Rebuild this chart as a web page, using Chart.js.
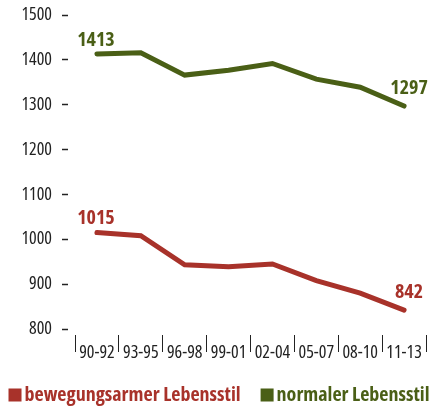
<!DOCTYPE html>
<html>
<head>
<meta charset="utf-8">
<script src="https://cdn.jsdelivr.net/npm/chart.js@4"></script>
<style>
  html, body { margin: 0; padding: 0; background: #fff; }
  #wrap { width: 438px; height: 407px; }
</style>
</head>
<body>
<div id="wrap"><canvas id="grafica"></canvas></div>
<script>
// Daten
const perioden = ["90-92", "93-95", "96-98", "99-01", "02-04", "05-07", "08-10", "11-13"];
const bewegungsarm = [1015, 1008, 943, 939, 945, 908, 880, 842];
const normal = [1413, 1416, 1366, 1377, 1392, 1357, 1339, 1297];
const yTicks = [800, 900, 1000, 1100, 1200, 1300, 1400, 1500];

const ROT = "#a8322a";
const GRUEN = "#4a5f16";
const SCHRIFT = "'Open Sans', sans-serif";

// Werte am ersten und letzten Punkt beschriften
const endWerte = {
  id: "endWerte",
  afterDatasetsDraw(chart) {
    const ctx = chart.ctx;
    ctx.save();
    ctx.font = "bold extra-condensed 20px " + SCHRIFT;
    ctx.fontStretch = "extra-condensed";
    ctx.textAlign = "center";
    ctx.textBaseline = "bottom";
    chart.data.datasets.forEach((ds, i) => {
      const meta = chart.getDatasetMeta(i);
      const letzte = meta.data.length - 1;
      ctx.fillStyle = ds.borderColor;
      [0, letzte].forEach(idx => {
        const p = meta.data[idx];
        const dx = idx === 0 ? -1 : 5;
        const dy = idx === 0 ? 4 : 8;
        ctx.fillText(String(ds.data[idx]), p.x + dx, p.y - dy);
      });
    });
    ctx.restore();
  }
};

// Legende unten, selbst gezeichnet
const legende = {
  id: "legende",
  afterDraw(chart) {
    const ctx = chart.ctx;
    ctx.save();
    ctx.font = "bold extra-condensed 20px " + SCHRIFT;
    ctx.fontStretch = "extra-condensed";
    ctx.textBaseline = "middle";
    const box = 13, gap = 3, abstand = 20;
    const items = chart.data.datasets.map(ds => ({
      text: ds.label, color: ds.borderColor, w: ctx.measureText(ds.label).width
    }));
    const total = items.reduce((s, it) => s + box + gap + it.w, 0) + abstand * (items.length - 1);
    let x = (chart.width - total) / 2;
    const y = 395;
    items.forEach(it => {
      ctx.fillStyle = it.color;
      ctx.fillRect(x, y - box / 2, box, box);
      ctx.fillText(it.text, x + box + gap, y);
      x += box + gap + it.w + abstand;
    });
    ctx.restore();
  }
};

new Chart(document.getElementById("grafica"), {
  type: "line",
  data: {
    labels: perioden,
    datasets: [
      {
        label: "bewegungsarmer Lebensstil",
        data: bewegungsarm,
        borderColor: ROT,
        backgroundColor: ROT,
        borderWidth: 5,
        pointRadius: 0,
        tension: 0,
        borderCapStyle: "round",
        fill: false
      },
      {
        label: "normaler Lebensstil",
        data: normal,
        borderColor: GRUEN,
        backgroundColor: GRUEN,
        borderWidth: 5,
        pointRadius: 0,
        tension: 0,
        borderCapStyle: "round",
        fill: false
      }
    ]
  },
  options: {
    responsive: true,
    maintainAspectRatio: false,
    animation: false,
    layout: { padding: { left: 0, right: 12, top: 15, bottom: 34 } },
    scales: {
      x: {
        offset: true,
        border: { display: false },
        grid: {
          offset: true,
          drawOnChartArea: false,
          drawTicks: true,
          tickLength: 23,
          tickWidth: 1,
          tickColor: "#222",
          tickBorderDash: [0, 6, 17, 20]
        },
        ticks: {
          color: "#222",
          font: { family: SCHRIFT, size: 18, weight: "400 extra-condensed" },
          padding: -10,
          maxRotation: 0,
          autoSkip: false
        },
        afterFit(scale) { scale.height = 44; }
      },
      y: {
        min: 800,
        max: 1500,
        border: { display: false },
        grid: {
          drawOnChartArea: false,
          drawTicks: true,
          tickLength: 13,
          tickWidth: 1.5,
          tickColor: "#222",
          tickBorderDash: [6, 20]
        },
        afterBuildTicks(scale) {
          scale.ticks = yTicks.map(v => ({ value: v }));
        },
        ticks: {
          color: "#222",
          font: { family: SCHRIFT, size: 18, weight: "400 extra-condensed" },
          padding: 10,
          callback: v => String(v)
        },
        afterFit(scale) {
          scale.width = 75;
          scale.paddingTop = 0;
          scale.paddingBottom = 0;
        }
      }
    },
    plugins: {
      tooltip: { enabled: false },
      legend: { display: false }
    }
  },
  plugins: [endWerte, legende]
});
</script>
</body>
</html>
